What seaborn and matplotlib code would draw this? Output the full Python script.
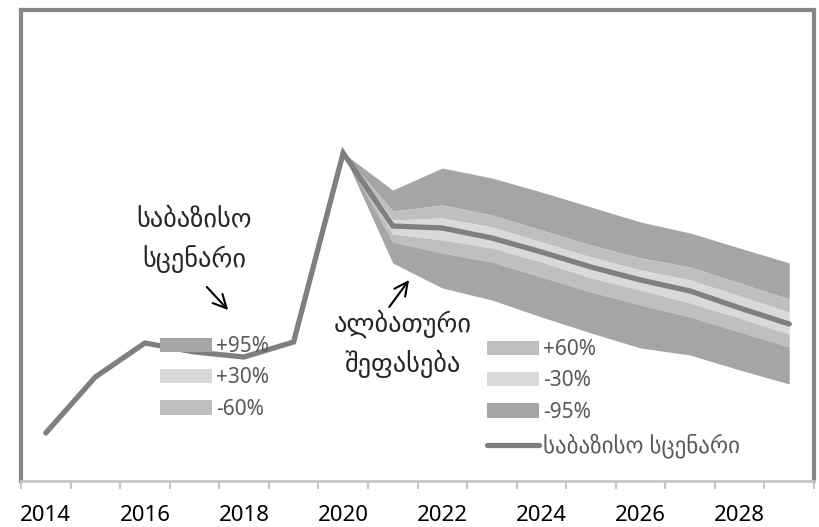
import numpy as np
import pandas as pd
import matplotlib
matplotlib.use("Agg")
import matplotlib.pyplot as plt
import seaborn as sns
from matplotlib.patches import Patch
from matplotlib.lines import Line2D
from matplotlib.ticker import FixedLocator

# Baseline scenario (history + forecast), arbitrary units
years = list(range(2014, 2030))
baseline = [4.8, 10.4, 13.8, 12.9, 12.4, 13.9, 32.8, 25.5, 25.3, 24.3,
            22.9, 21.4, 20.1, 19.0, 17.3, 15.7]

# Fan chart bounds, 2020-2029
fan_years = list(range(2020, 2030))
upper95 = [32.8, 29.1, 31.3, 30.3, 28.9, 27.4, 25.9, 24.8, 23.3, 21.8]
upper60 = [32.8, 27.0, 27.6, 26.6, 25.1, 23.6, 22.3, 21.4, 19.8, 18.2]
upper30 = [32.8, 26.1, 26.3, 25.4, 23.9, 22.4, 21.1, 20.1, 18.5, 16.9]
lower30 = [32.8, 24.7, 24.1, 23.3, 21.9, 20.3, 19.1, 17.8, 16.3, 14.7]
lower60 = [32.8, 23.9, 22.8, 21.9, 20.4, 18.9, 17.6, 16.4, 14.9, 13.4]
lower95 = [32.8, 21.8, 19.3, 18.1, 16.4, 14.8, 13.3, 12.6, 11.1, 9.7]

tick_years = [2014, 2016, 2018, 2020, 2022, 2024, 2026, 2028]

c95 = "#a5a5a5"
c60 = "#bfbfbf"
c30 = "#d9d9d9"
cline = "#7f7f7f"

df = pd.DataFrame({"year": years, "baseline": baseline})
fan = pd.DataFrame({"year": fan_years, "u95": upper95, "u60": upper60, "u30": upper30,
                    "l30": lower30, "l60": lower60, "l95": lower95})

sns.set_style("white")
plt.rcParams["font.family"] = ["Noto Sans", "DejaVu Sans"]

W, H = 819, 527
fig = plt.figure(figsize=(W / 100, H / 100), dpi=100)
ax = fig.add_axes([21 / W, 1 - 481 / H, (814 - 21) / W, (481 - 10) / H])

# bands from outside in
ax.fill_between(fan["year"], fan["u60"], fan["u95"], color=c95, lw=0)
ax.fill_between(fan["year"], fan["u30"], fan["u60"], color=c60, lw=0)
ax.fill_between(fan["year"], fan["l30"], fan["u30"], color=c30, lw=0)
ax.fill_between(fan["year"], fan["l60"], fan["l30"], color=c60, lw=0)
ax.fill_between(fan["year"], fan["l95"], fan["l60"], color=c95, lw=0)

sns.lineplot(data=df, x="year", y="baseline", ax=ax, color=cline, lw=3.8,
             solid_capstyle="round", solid_joinstyle="miter", legend=False)

ax.set_xlim(2013.5, 2029.5)
ax.set_ylim(0, 47.1)
ax.set_xlabel("")
ax.set_ylabel("")
ax.set_yticks([])
ax.set_xticks(tick_years)
ax.set_xticklabels([str(y) for y in tick_years], fontsize=16, color="black")
ax.xaxis.set_minor_locator(FixedLocator(np.arange(2013.5, 2030, 1.0)))
ax.tick_params(axis="x", which="major", length=0, pad=17)
ax.tick_params(axis="x", which="minor", length=6, width=1.5, color="#c8c8c8", direction="out", bottom=True)

for side in ["left", "top", "right"]:
    ax.spines[side].set_color("#868686")
    ax.spines[side].set_linewidth(3.0)
ax.spines["bottom"].set_color("#c8c8c8")
ax.spines["bottom"].set_linewidth(2.0)

# annotations
ax.text(2017.0, 24.1, "საბაზისო\nსცენარი", ha="center", va="center",
        fontsize=19, family=["DejaVu Sans"], linespacing=1.55)
ax.text(2021.2, 13.7, "ალბათური\nშეფასება", ha="center", va="center",
        fontsize=19, family=["DejaVu Sans"], linespacing=1.55)
arrow = dict(arrowstyle="->", color="black", lw=1.5, mutation_scale=24, shrinkA=0, shrinkB=0)
ax.annotate("", xy=(2017.68, 17.1), xytext=(2017.25, 19.4), arrowprops=arrow)
ax.annotate("", xy=(2021.33, 20.1), xytext=(2020.93, 17.4), arrowprops=arrow)

# legends (two blocks, like the original)
leg_kw = dict(frameon=False, fontsize=15, handlelength=2.5, handleheight=0.67,
              handletextpad=0.2, labelspacing=0.5, borderpad=0, borderaxespad=0,
              loc="upper left", bbox_transform=fig.transFigure, labelcolor="#595959")
left_handles = [Patch(facecolor=c95, lw=0), Patch(facecolor=c30, lw=0), Patch(facecolor=c60, lw=0)]
leg1 = ax.legend(left_handles, ["+95%", "+30%", "-60%"],
                 bbox_to_anchor=(160 / W, 1 - 336 / H), **leg_kw)
ax.add_artist(leg1)
right_handles = [Patch(facecolor=c60, lw=0), Patch(facecolor=c30, lw=0), Patch(facecolor=c95, lw=0),
                 Line2D([], [], color=cline, lw=3.8, solid_capstyle="round")]
leg2 = ax.legend(right_handles, ["+60%", "-30%", "-95%", "საბაზისო სცენარი"],
                 bbox_to_anchor=(487 / W, 1 - 339 / H), **leg_kw)
leg2.get_texts()[3].set_fontsize(16.5)

fig.savefig("out.png", dpi=100)
